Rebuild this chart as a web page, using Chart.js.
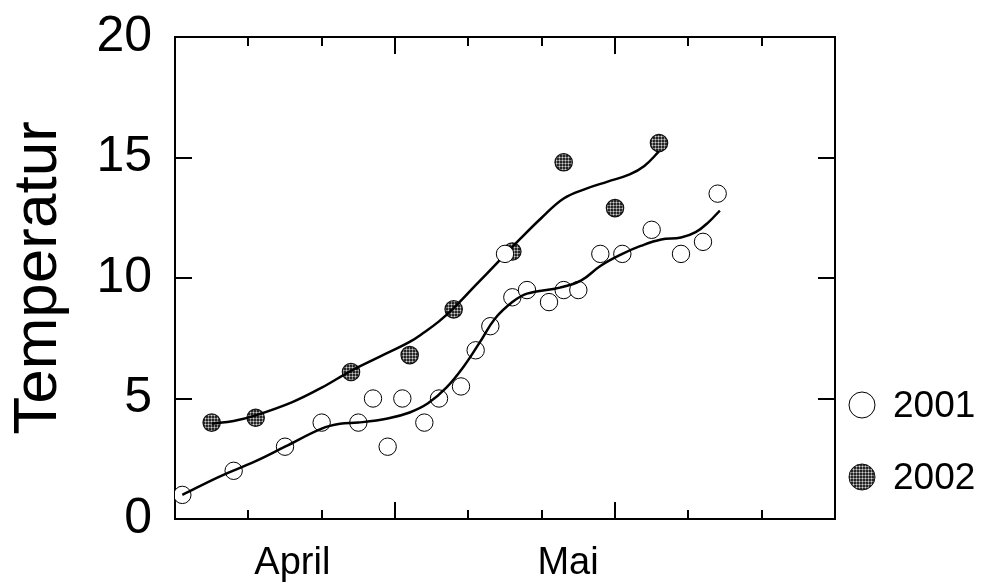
<!DOCTYPE html>
<html><head><meta charset="utf-8">
<script src="https://cdn.jsdelivr.net/npm/chart.js@4.4.1/dist/chart.umd.min.js"></script>
<style>html,body{margin:0;padding:0;background:#fff;}canvas{display:block;}</style>
</head><body>
<canvas id="c" width="984" height="583"></canvas>
<script>
// ---- data ----
const days2001 = [1,8,15,20,25,27,29,31,34,36,39,41,43,45,46,48,51,53,55,58,61,65,69,72,74];
const temp2001 = [1.0,2.0,3.0,4.0,4.0,5.0,3.0,5.0,4.0,5.0,5.5,7.0,8.0,11.0,9.2,9.5,9.0,9.5,9.5,11.0,11.0,12.0,11.0,11.5,13.5];
const days2002 = [5,11,24,32,38,46,53,60,66];
const temp2002 = [4.0,4.2,6.1,6.8,8.7,11.1,14.8,12.9,15.6];
const fitDays2001 = [1,6,11,15,20,22.5,25,29,32,34.5,37,39.3,41.6,43.6,46,48,52.5,55.4,58,61,63.5,66.3,69,71,72.8,74.3];
const fitVals2001 = [1.0,1.75,2.4,3.0,3.75,3.95,4.0,4.17,4.42,4.8,5.45,6.3,7.35,8.3,9.0,9.35,9.6,9.9,10.5,11.0,11.33,11.6,11.68,11.9,12.33,12.8];
const fitDays2002 = [5,8,11,16,20,24,28,32,34,36,38,41,44,47,50,53,56,59,62,64,66];
const fitVals2002 = [3.95,4.07,4.3,4.85,5.45,6.15,6.75,7.35,7.75,8.2,8.75,9.7,10.65,11.6,12.5,13.3,13.7,14.0,14.3,14.65,15.25];
const yTicks = [0,5,10,15,20];
const monthLabels = ['April','Mai'];
const monthDays = [16,53.6];
const xTickDays = [10,20,30,40,50,60,70,80];
const xMajorDays = [30,60];
const seriesLabels = ['2001','2002'];
const yTitle = 'Temperatur';

const FONT = "'Liberation Sans', Arial, Helvetica, sans-serif";
const canvas = document.getElementById('c');
const ctx0 = canvas.getContext('2d');

function makePattern(){
  const p = document.createElement('canvas'); p.width = 3; p.height = 3;
  const g = p.getContext('2d');
  g.fillStyle = '#262626'; g.fillRect(0,0,3,3);
  g.fillStyle = '#7e7e7e'; g.fillRect(1,0,1,3); g.fillRect(0,1,3,1);
  g.fillStyle = '#cfcfcf'; g.fillRect(1,1,1,1);
  return ctx0.createPattern(p, 'repeat');
}
const hatch = makePattern();

const toXY = (xs, ys) => xs.map((v,i) => ({x:v, y:ys[i]}));

const frameTicks = {
  id: 'frameTicks',
  afterDraw(chart){
    const {ctx, chartArea:a, scales} = chart;
    const x = scales.x, y = scales.y;
    ctx.save();
    ctx.strokeStyle = '#000'; ctx.lineWidth = 2;
    ctx.beginPath();
    xTickDays.forEach(d => {
      const px = Math.round(x.getPixelForValue(d));
      const len = xMajorDays.includes(d) ? 17 : 9;
      ctx.moveTo(px, a.bottom); ctx.lineTo(px, a.bottom - len);
      ctx.moveTo(px, a.top); ctx.lineTo(px, a.top + len);
    });
    yTicks.slice(1, -1).forEach(v => {
      const py = Math.round(y.getPixelForValue(v));
      ctx.moveTo(a.left, py); ctx.lineTo(a.left + 17, py);
      ctx.moveTo(a.right, py); ctx.lineTo(a.right - 17, py);
    });
    ctx.stroke();
    // legend
    const rows = [a.bottom - 114, a.bottom - 42];
    const styles = [
      {fill:'#fff', stroke:'#000'},
      {fill:hatch, stroke:'#111'}
    ];
    ctx.font = '37px ' + FONT;
    ctx.textBaseline = 'middle';
    ctx.textAlign = 'left';
    rows.forEach((ry, i) => {
      ctx.beginPath();
      ctx.arc(a.right + 27, ry, 13, 0, Math.PI * 2);
      ctx.fillStyle = styles[i].fill; ctx.fill();
      ctx.lineWidth = 1; ctx.strokeStyle = styles[i].stroke; ctx.stroke();
      ctx.fillStyle = '#000';
      ctx.fillText(seriesLabels[i], a.right + 58, ry + 2);
    });
    ctx.restore();
  }
};

const noPad = s => { s.paddingTop = 0; s.paddingBottom = 0; s.paddingLeft = 0; s.paddingRight = 0; };

new Chart(canvas, {
  type: 'scatter',
  data: {
    datasets: [
      {label:'fit2001', type:'line', data:toXY(fitDays2001, fitVals2001), borderColor:'#000', borderWidth:2.5,
       pointRadius:0, fill:false, tension:0.4, order:0},
      {label:seriesLabels[0], data:toXY(days2001, temp2001), pointStyle:'circle', pointRadius:8.7,
       backgroundColor:'#fff', borderColor:'#000', borderWidth:1, order:1},
      {label:'fit2002', type:'line', data:toXY(fitDays2002, fitVals2002), borderColor:'#000', borderWidth:2.5,
       pointRadius:0, fill:false, tension:0.4, order:2},
      {label:seriesLabels[1], data:toXY(days2002, temp2002), pointStyle:'circle', pointRadius:8.7,
       backgroundColor:hatch, borderColor:'#111', borderWidth:1.2, order:3}
    ]
  },
  options: {
    responsive:false, animation:false, devicePixelRatio:1,
    layout:{padding:0},
    plugins:{legend:{display:false}, tooltip:{enabled:false}},
    scales:{
      x:{type:'linear', position:'bottom', min:0, max:90,
         afterBuildTicks: s => { s.ticks = monthDays.map(v => ({value:v})); },
         ticks:{callback:(v, i) => monthLabels[i], font:{size:38, family:FONT}, color:'#000', padding:22, maxRotation:0, autoSkip:false},
         grid:{display:false, drawTicks:false},
         border:{display:true, color:'#000', width:2},
         afterFit: s => { s.height = 64; noPad(s); }},
      xTop:{type:'linear', position:'top', min:0, max:90,
         ticks:{display:false}, grid:{display:false, drawTicks:false},
         border:{display:true, color:'#000', width:2},
         afterFit: s => { s.height = 37; noPad(s); }},
      y:{type:'linear', position:'left', min:0, max:20,
         afterBuildTicks: s => { s.ticks = yTicks.map(v => ({value:v})); },
         ticks:{callback:v => String(v), font:{size:50, family:FONT}, color:'#000', padding:23},
         grid:{display:false, drawTicks:false},
         border:{display:true, color:'#000', width:2},
         title:{display:true, text:yTitle, color:'#000', font:{size:62, family:FONT, lineHeight:1.1}, padding:{top:5, bottom:0}},
         afterFit: s => { s.width = 175; noPad(s); }},
      yRight:{type:'linear', position:'right', min:0, max:20,
         ticks:{display:false}, grid:{display:false, drawTicks:false},
         border:{display:true, color:'#000', width:2},
         afterFit: s => { s.width = 149; noPad(s); }}
    }
  },
  plugins:[frameTicks]
});
</script>
</body></html>
